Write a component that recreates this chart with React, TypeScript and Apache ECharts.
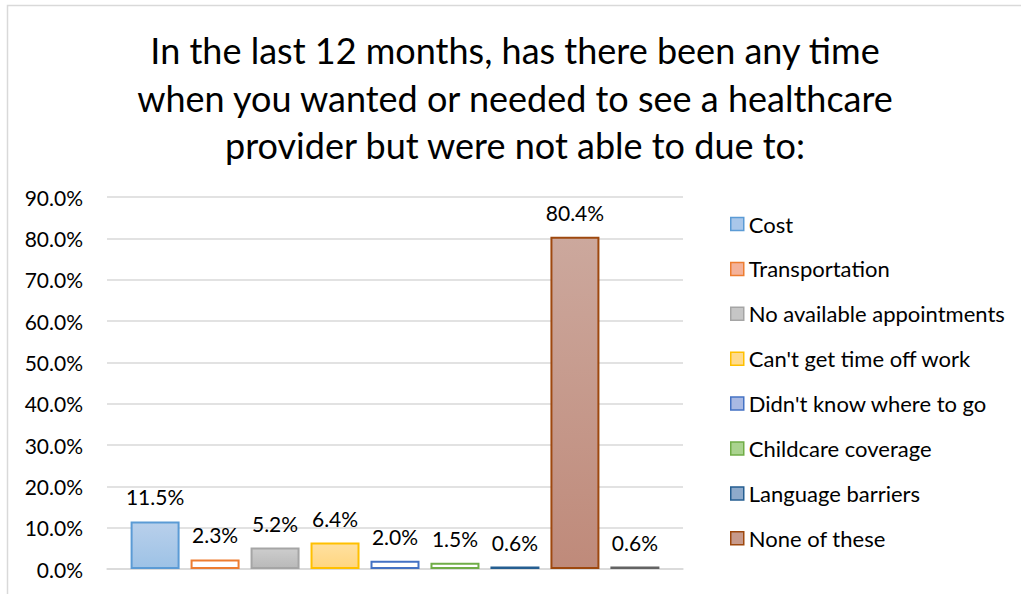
import React, { useEffect, useRef } from "react";
import * as echarts from "echarts";

const titleLines = [
  "In the last 12 months, has there been any time",
  "when you wanted or needed to see a healthcare",
  "provider but were not able to due to:",
];
const seriesNames = [
  "Cost",
  "Transportation",
  "No available appointments",
  "Can't get time off work",
  "Didn't know where to go",
  "Childcare coverage",
  "Language barriers",
  "None of these",
  "Other",
];
const seriesValues = [11.5, 2.3, 5.2, 6.4, 2.0, 1.5, 0.6, 80.4, 0.6];
const legendNames = seriesNames.slice(0, 8);
const category = [""];
const yTicks = { min: 0, max: 90, interval: 10 };

const FONT = "Lato, 'Open Sans', sans-serif";

const grad = (top: string, bottom: string) =>
  new echarts.graphic.LinearGradient(0, 0, 0, 1, [
    { offset: 0, color: top },
    { offset: 1, color: bottom },
  ]);

const barStyles = [
  { fill: () => grad("#b9d0eb", "#9dc2e6"), border: "#5b9bd5", legendFill: "#a9c7ea" },
  { fill: () => "#ffffff", border: "#ed7d31", legendFill: "#f4b29a" },
  { fill: () => grad("#cdcdcd", "#b9b9b9"), border: "#a5a5a5", legendFill: "#c6c6c6" },
  { fill: () => grad("#ffe0a0", "#ffd680"), border: "#ffc000", legendFill: "#ffdb8e" },
  { fill: () => "#ffffff", border: "#4472c4", legendFill: "#a9b9e3" },
  { fill: () => "#ffffff", border: "#70ad47", legendFill: "#aad38f" },
  { fill: () => "#8aa5c6", border: "#255e91", legendFill: "#8eaacb" },
  { fill: () => grad("#cca89d", "#bf8a7a"), border: "#9e480e", legendFill: "#c79a8c" },
  { fill: () => "#8c8c8c", border: "#636363", legendFill: "#8c8c8c" },
];

export default function App() {
  const ref = useRef<HTMLDivElement>(null);
  useEffect(() => {
    if (!ref.current) return;
    const chart = echarts.init(ref.current, undefined, { renderer: "svg" });
    const option: any = {
      animation: false,
      backgroundColor: "#ffffff",
      textStyle: { fontFamily: FONT },
      graphic: [
        {
          type: "rect",
          shape: { x: 7.5, y: 5.5, width: 1100, height: 700 },
          style: { fill: "none", stroke: "#d9d9d9", lineWidth: 1.5 },
          silent: true,
        },
        ...titleLines.map((t, i) => ({
          type: "text",
          x: 515,
          y: 50 + i * 47.5,
          style: {
            text: t,
            fontSize: 36,
            fontFamily: FONT,
            fill: "#000000",
            textAlign: "center",
            textVerticalAlign: "middle",
          },
        })),
      ],
      legend: {
        orient: "vertical",
        left: 725,
        top: 208,
        itemWidth: 13,
        itemHeight: 13,
        itemGap: 22.9,
        icon: "rect",
        textStyle: { fontSize: 22, lineHeight: 22, color: "#000000", fontFamily: FONT },
        data: legendNames.map((n, i) => ({
          name: n,
          itemStyle: {
            color: barStyles[i].legendFill,
            borderColor: barStyles[i].border,
            borderWidth: 1.5,
          },
        })),
      },
      grid: { left: 107, right: 338, top: 197, bottom: 25 },
      xAxis: {
        type: "category",
        data: category,
        axisLine: { lineStyle: { color: "#d9d9d9", width: 1.5 } },
        axisTick: { show: false },
        axisLabel: { show: false },
      },
      yAxis: {
        type: "value",
        min: yTicks.min,
        max: yTicks.max,
        interval: yTicks.interval,
        axisLine: { show: false },
        axisTick: { show: false },
        splitLine: { lineStyle: { color: "#d9d9d9", width: 1.5 } },
        axisLabel: {
          fontSize: 21,
          color: "#000000",
          margin: 24,
          fontFamily: FONT,
          formatter: (v: number) => v.toFixed(1) + "%",
        },
      },
      series: seriesNames.map((n, i) => ({
        type: "bar",
        name: n,
        data: [seriesValues[i]],
        barWidth: 49,
        barGap: "22.4%",
        itemStyle: {
          color: barStyles[i].fill(),
          borderColor: barStyles[i].border,
          borderWidth: 2,
        },
        label: {
          show: true,
          position: "top",
          distance: 14,
          fontSize: 21,
          lineHeight: 21,
          color: "#000000",
          fontFamily: FONT,
          formatter: (p: any) => Number(p.value).toFixed(1) + "%",
        },
      })),
    };
    chart.setOption(option);
    return () => chart.dispose();
  }, []);
  return (
    <div
      ref={ref}
      style={{ position: "fixed", left: 0, top: 0, width: 1021, height: 594 }}
    />
  );
}
